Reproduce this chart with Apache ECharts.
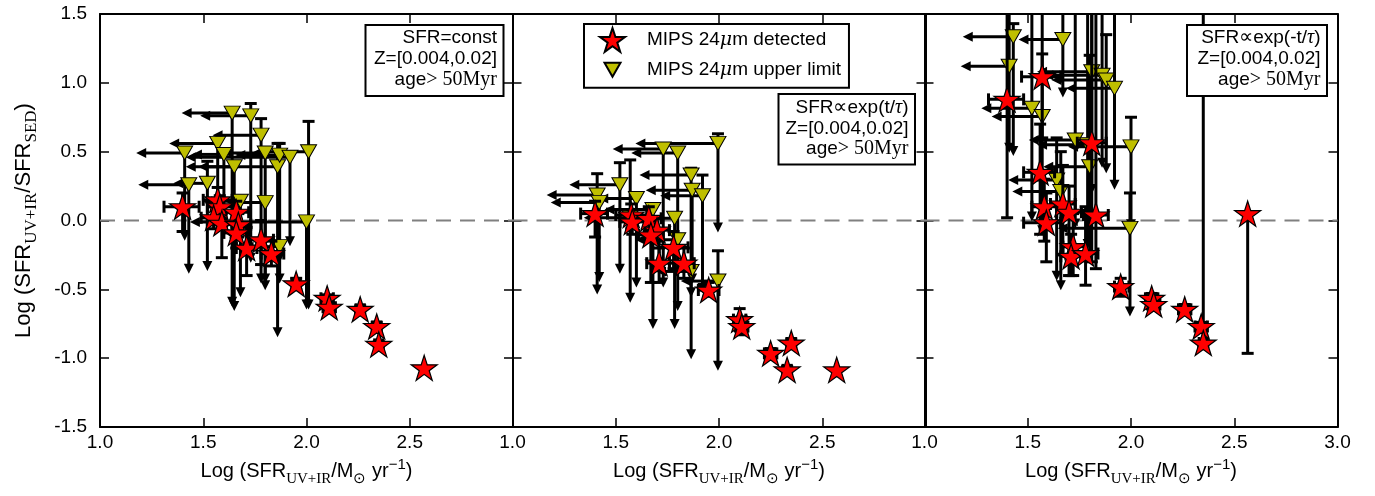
<!DOCTYPE html>
<html><head><meta charset="utf-8">
<script src="https://cdn.jsdelivr.net/npm/echarts/dist/echarts.min.js"></script>
<style>html,body{margin:0;padding:0;background:#fff}#c{width:1375px;height:496px}</style>
</head><body><div id="c"></div>
<script>
// ---------- data ----------
const xTickValues = [1.0, 1.5, 2.0, 2.5, 3.0];
const yTickValues = [-1.5, -1.0, -0.5, 0.0, 0.5, 1.0, 1.5];
const DET = 'MIPS 24μm detected';
const LIM = 'MIPS 24μm upper limit';
const panelNotes = [
  ['{a|SFR=const}', '{a|Z=[0.004,0.02]}', '{a|age}{m|> 50Myr}'],
  ['{a|SFR}{m|∝}{a|exp(t/}{i|τ}{a|)}', '{a|Z=[0.004,0.02]}', '{a|age}{m|> 50Myr}'],
  ['{a|SFR}{m|∝}{a|exp(-t/}{i|τ}{a|)}', '{a|Z=[0.004,0.02]}', '{a|age}{m|> 50Myr}']
];
// detected: [x, y, xlo, xhi, ylo, yhi]
const det1 = [
 [1.40, 0.10, 1.31, 1.48, -0.08, 0.20],
 [1.57, 0.15, 1.50, 1.64, 0.05, 0.24],
 [1.58, 0.10, 1.52, 1.64, 0.00, 0.18],
 [1.66, 0.06, 1.60, 1.72, -0.05, 0.14],
 [1.55, 0.02, 1.49, 1.61, -0.06, 0.10],
 [1.59, -0.02, 1.52, 1.66, -0.27, 0.06],
 [1.67, -0.03, 1.61, 1.73, -0.12, 0.05],
 [1.66, -0.09, 1.60, 1.72, -0.20, 0.00],
 [1.71, -0.20, 1.66, 1.76, -0.40, -0.05],
 [1.78, -0.14, 1.72, 1.84, -0.32, 0.00],
 [1.83, -0.24, 1.78, 1.89, -0.33, -0.15],
 [1.95, -0.46, 1.93, 1.97, -0.50, -0.42],
 [2.10, -0.565, 2.07, 2.13, -0.59, -0.54],
 [2.11, -0.63, 2.08, 2.14, -0.66, -0.60],
 [2.26, -0.645, 2.24, 2.28, -0.67, -0.62],
 [2.34, -0.77, 2.32, 2.36, -0.80, -0.74],
 [2.35, -0.90, 2.33, 2.37, -0.92, -0.88],
 [2.57, -1.07, 2.57, 2.57, -1.07, -1.07]
];
// upper limits: [x, y, xArrowTip, xRightCap, yArrowTip, yTopCap]
const lim1 = [
 [1.41, 0.49, 1.18, null, -0.14, null],
 [1.43, 0.26, 1.19, null, -0.38, null],
 [1.52, 0.27, 1.36, null, -0.36, 0.43],
 [1.57, 0.56, 1.34, null, 0.05, null],
 [1.60, 0.48, 1.45, null, -0.10, null],
 [1.64, 0.78, 1.40, null, -0.62, null],
 [1.65, 0.39, 1.48, null, -0.65, null],
 [1.68, 0.14, 1.50, null, -0.55, null],
 [1.73, 0.76, 1.49, null, -0.30, 0.85],
 [1.78, 0.62, 1.55, null, -0.45, 0.74],
 [1.80, 0.49, 1.60, null, -0.50, null],
 [1.80, 0.13, 1.62, null, -0.45, null],
 [1.86, 0.39, 1.42, null, -0.84, 0.56],
 [1.87, 0.475, 1.66, null, -0.30, 0.56],
 [1.92, 0.46, 1.42, null, -0.18, null],
 [2.01, 0.50, 1.75, null, -0.64, 0.72],
 [2.00, -0.01, 1.44, null, -0.64, null],
 [1.87, -0.19, 1.70, null, -0.45, null]
];
const det2 = [
 [1.40, 0.05, 1.33, 1.46, -0.12, 0.14],
 [1.575, 0.04, 1.50, 1.65, -0.06, 0.12],
 [1.58, -0.01, 1.52, 1.64, -0.10, 0.08],
 [1.66, 0.016, 1.60, 1.72, -0.08, 0.10],
 [1.70, -0.07, 1.64, 1.76, -0.15, 0.02],
 [1.67, -0.105, 1.61, 1.73, -0.45, 0.00],
 [1.78, -0.195, 1.71, 1.85, -0.35, -0.08],
 [1.71, -0.31, 1.65, 1.76, -0.45, -0.20],
 [1.83, -0.31, 1.76, 1.88, -0.42, -0.20],
 [1.95, -0.505, 1.90, 2.00, -0.55, -0.45],
 [2.10, -0.72, 2.07, 2.13, -0.80, -0.64],
 [2.11, -0.77, 2.08, 2.14, -0.83, -0.70],
 [2.25, -0.965, 2.22, 2.28, -1.00, -0.93],
 [2.35, -0.89, 2.33, 2.37, -0.92, -0.86],
 [2.33, -1.085, 2.31, 2.35, -1.11, -1.06],
 [2.57, -1.085, 2.57, 2.57, -1.085, -1.085]
];
const lim2 = [
 [1.41, 0.185, 1.17, null, -0.53, 0.34],
 [1.42, 0.13, 1.19, null, -0.44, null],
 [1.52, 0.26, 1.28, null, -0.38, 0.42],
 [1.57, 0.02, 1.35, null, -0.59, 0.44],
 [1.60, 0.16, 1.42, null, -0.48, null],
 [1.68, 0.08, 1.45, null, -0.78, null],
 [1.73, 0.52, 1.49, null, -0.48, null],
 [1.785, 0.016, 1.55, null, -0.78, null],
 [1.80, 0.49, 1.58, null, -0.65, null],
 [1.80, -0.14, 1.60, null, -0.40, null],
 [1.865, 0.33, 1.62, null, -1.00, 0.38],
 [1.87, 0.22, 1.65, null, -0.45, null],
 [1.92, 0.18, 1.72, null, -0.52, 0.33],
 [1.865, -0.37, 1.70, null, -0.55, null],
 [1.995, 0.56, 1.60, null, -0.08, 0.63],
 [1.995, -0.44, 1.82, null, -1.085, -0.22]
];
const det3 = [
 [1.40, 0.88, 1.31, 1.48, 0.02, 1.60],
 [1.57, 1.045, 1.47, 1.66, 0.60, 1.21],
 [1.81, 0.565, 1.74, 1.88, -0.30, 1.70],
 [1.56, 0.35, 1.48, 1.63, -0.10, 0.70],
 [1.58, 0.10, 1.52, 1.65, -0.15, 0.30],
 [1.67, 0.12, 1.61, 1.73, -0.25, 0.40],
 [1.70, 0.06, 1.64, 1.76, -0.40, 0.25],
 [1.59, -0.016, 1.48, 1.66, -0.30, 0.20],
 [1.83, 0.04, 1.77, 1.89, -0.35, 1.70],
 [1.72, -0.19, 1.67, 1.78, -0.40, 0.05],
 [1.71, -0.26, 1.66, 1.77, -0.40, -0.10],
 [1.78, -0.24, 1.72, 1.84, -0.47, 0.10],
 [1.95, -0.48, 1.92, 1.99, -0.55, -0.42],
 [2.10, -0.565, 2.07, 2.13, -0.60, -0.53],
 [2.11, -0.61, 2.08, 2.14, -0.65, -0.57],
 [2.26, -0.645, 2.23, 2.29, -0.68, -0.61],
 [2.34, -0.77, 2.31, 2.37, -0.80, -0.74],
 [2.35, -0.89, 2.33, 2.37, -0.92, 1.70],
 [2.565, 0.05, 2.565, 2.565, -0.965, 0.05]
];
const lim3 = [
 [1.43, 1.335, 1.19, null, 0.475, 1.43],
 [1.41, 1.12, 1.18, null, 0.50, 1.70],
 [1.67, 1.315, 1.46, null, 0.90, 1.70],
 [1.81, 1.08, 1.55, null, 0.20, 1.70],
 [1.86, 1.055, 1.58, null, 0.39, 1.70],
 [1.88, 1.02, 1.62, null, 0.35, 1.35],
 [1.92, 0.96, 1.69, null, 0.23, 1.70],
 [1.52, 0.815, 1.28, null, 0.00, 1.70],
 [1.57, 0.755, 1.33, null, -0.10, 1.70],
 [1.73, 0.585, 1.51, null, -0.05, 1.70],
 [1.79, 0.55, 1.55, null, -0.20, 1.70],
 [2.00, 0.535, 1.70, null, -0.057, 0.75],
 [1.80, 0.39, 1.58, null, -0.30, 1.20],
 [1.64, 0.295, 1.41, null, -0.43, 0.60],
 [1.66, 0.21, 1.43, null, -0.50, 0.50],
 [1.995, -0.057, 1.65, null, -0.69, 0.20]
];
const detPanels = [det1, det2, det3];
const limPanels = [lim1, lim2, lim3];

// ---------- styling / layout ----------
const F = 'Liberation Sans';
const SERIF = 'Liberation Serif';
const gridLefts = [100, 512.5, 924.5];
const starPath = 'path://M50,0 L61.2,34.5 L97.6,34.5 L68.2,55.9 L79.4,90.5 L50,69.1 L20.6,90.5 L31.8,55.9 L2.4,34.5 L38.8,34.5 Z';
const triPath = 'path://M0,0 L100,0 L50,87 Z';
const triLegendPath = 'path://M0,0 M25,24 M4.5,5 L20.5,5 L12.5,19 Z';

function errRender(arr, kind) {
  return function (params, api) {
    const d = arr[params.dataIndex];
    const c = api.coord([d[0], d[1]]);
    const ch = [];
    const ls = {stroke: '#000', lineWidth: 3};
    const line = (a, b) => ch.push({type: 'line', shape: {x1: a[0], y1: a[1], x2: b[0], y2: b[1]}, style: ls});
    const cap = 6;
    const hcap = p => line([p[0] - cap, p[1]], [p[0] + cap, p[1]]);
    const vcap = p => line([p[0], p[1] - cap], [p[0], p[1] + cap]);
    if (kind === 'det') {
      const l = api.coord([d[2], d[1]]), r = api.coord([d[3], d[1]]);
      const b = api.coord([d[0], d[4]]), t = api.coord([d[0], d[5]]);
      if (r[0] - l[0] > 1) { line(l, r); vcap(l); vcap(r); }
      if (b[1] - t[1] > 1) { line(t, b); hcap(t); hcap(b); }
    } else {
      const tx = api.coord([d[2], d[1]]);
      const rx = d[3] == null ? c : api.coord([d[3], d[1]]);
      line([tx[0] + 5, tx[1]], rx);
      if (d[3] != null) vcap(rx);
      ch.push({type: 'polygon', shape: {points: [[tx[0] - 1, tx[1]], [tx[0] + 9, tx[1] - 5], [tx[0] + 9, tx[1] + 5]]}, style: {fill: '#000'}});
      const ty = api.coord([d[0], d[4]]);
      const top = d[5] == null ? c : api.coord([d[0], d[5]]);
      line(top, [ty[0], ty[1] - 5]);
      if (d[5] != null) hcap(top);
      ch.push({type: 'polygon', shape: {points: [[ty[0], ty[1] + 1], [ty[0] - 5, ty[1] - 9], [ty[0] + 5, ty[1] - 9]]}, style: {fill: '#000'}});
    }
    return {type: 'group', children: ch};
  };
}

const tickStyle = {show: true, inside: true, length: 9, lineStyle: {color: '#000', width: 1.5}};
const lineStyleAx = {show: true, onZero: false, lineStyle: {color: '#000', width: 2}};
const xName = '{a|Log (SFR}{s|UV+IR}{a|/M}{s|⊙}{a| yr}{p|−1}{a|)}';
const yName = '{a|Log (SFR}{s|UV+IR}{a|/SFR}{s|SED}{a|)}';
const xNameRich = {
  a: {fontSize: 20, fontFamily: F, color: '#000', lineHeight: 30, verticalAlign: 'middle'},
  s: {fontSize: 15, fontFamily: SERIF, color: '#000', lineHeight: 16, verticalAlign: 'bottom'},
  p: {fontSize: 15, fontFamily: F, color: '#000', lineHeight: 20, verticalAlign: 'top'}
};
const yNameRich = {
  a: {fontSize: 22, fontFamily: F, color: '#000', lineHeight: 32, verticalAlign: 'middle'},
  s: {fontSize: 17, fontFamily: SERIF, color: '#000', lineHeight: 17, verticalAlign: 'bottom'}
};

const grid = [], xAxis = [], yAxis = [], series = [];
for (let i = 0; i < 3; i++) {
  grid.push({left: gridLefts[i], top: 14, width: 413, height: 413, show: false, outerBoundsMode: 'none', containLabel: false});
  xAxis.push({
    gridIndex: i, type: 'value', min: 1, max: 3, interval: 0.5, position: 'bottom',
    axisLine: lineStyleAx, axisTick: tickStyle, splitLine: {show: false},
    axisLabel: {show: true, color: '#000', fontSize: 19, fontFamily: F, margin: 6, showMinLabel: true, showMaxLabel: true,
      formatter: v => (i < 2 && v >= 3) ? '' : v.toFixed(1)},
    name: xName, nameLocation: 'middle', nameGap: 27,
    nameTextStyle: {color: '#000', fontSize: 20, fontFamily: F, rich: xNameRich}
  });
  xAxis.push({
    gridIndex: i, type: 'value', min: 1, max: 3, interval: 0.5, position: 'top',
    axisLine: lineStyleAx, axisTick: tickStyle, splitLine: {show: false}, axisLabel: {show: false}
  });
  yAxis.push({
    gridIndex: i, type: 'value', min: -1.5, max: 1.5, interval: 0.5, position: 'left',
    axisLine: lineStyleAx, axisTick: tickStyle, splitLine: {show: false},
    axisLabel: {show: i === 0, color: '#000', fontSize: 19, fontFamily: F, margin: 13, showMinLabel: true, showMaxLabel: true,
      formatter: v => v.toFixed(1)},
    name: i === 0 ? yName : '', nameLocation: 'middle', nameGap: 60, nameRotate: 90,
    nameTextStyle: {color: '#000', fontSize: 22, fontFamily: F, rich: yNameRich}
  });
  yAxis.push({
    gridIndex: i, type: 'value', min: -1.5, max: 1.5, interval: 0.5, position: 'right',
    axisLine: lineStyleAx, axisTick: tickStyle, splitLine: {show: false}, axisLabel: {show: false}
  });
  const xi = i * 2, yi = i * 2;
  series.push({
    type: 'line', xAxisIndex: xi, yAxisIndex: yi, data: [[1, 0], [3, 0]], symbol: 'none', silent: true, z: 1,
    lineStyle: {color: '#808080', width: 2, type: [15, 9]}, animation: false
  });
  const lim = limPanels[i], det = detPanels[i];
  series.push({
    type: 'custom', name: 'limErr' + i, xAxisIndex: xi, yAxisIndex: yi, clip: true, z: 2, silent: true,
    renderItem: errRender(lim, 'lim'), encode: {x: 0, y: 1}, data: lim.map(d => [d[0], d[1]]), animation: false
  });
  series.push({
    type: 'scatter', name: LIM, xAxisIndex: xi, yAxisIndex: yi, z: 3, symbol: triPath, symbolSize: [16, 14],
    itemStyle: {color: '#bfbf00', borderColor: '#000', borderWidth: 1, opacity: 1},
    data: lim.map(d => [d[0], d[1]]), animation: false
  });
  series.push({
    type: 'custom', name: 'detErr' + i, xAxisIndex: xi, yAxisIndex: yi, clip: true, z: 4, silent: true,
    renderItem: errRender(det, 'det'), encode: {x: 0, y: 1}, data: det.map(d => [d[0], d[1]]), animation: false
  });
  series.push({
    type: 'scatter', name: DET, xAxisIndex: xi, yAxisIndex: yi, z: 5, symbol: starPath, symbolSize: [26, 25],
    itemStyle: {color: '#ff0000', borderColor: '#000', borderWidth: 1.2, opacity: 1},
    data: det.map(d => [d[0], d[1]]), animation: false
  });
}

// annotation boxes
const noteBoxes = [
  {x: 365.5, y: 25, w: 138, h: 71, tx: 497, ty: [38, 58.5, 79.5]},
  {x: 778.5, y: 94, w: 136.5, h: 70.5, tx: 908.5, ty: [107.5, 128.5, 149]},
  {x: 1187, y: 25, w: 140, h: 71, tx: 1320.5, ty: [38, 58.5, 79.5]}
];
const noteRich = {
  a: {fontSize: 19, fontFamily: F, color: '#000'},
  m: {fontSize: 20, fontFamily: SERIF, color: '#000'},
  i: {fontSize: 20, fontFamily: SERIF, fontStyle: 'italic', color: '#000'}
};
const graphic = [];
noteBoxes.forEach((b, k) => {
  graphic.push({type: 'rect', z: 100, shape: {x: b.x, y: b.y, width: b.w, height: b.h}, style: {fill: '#fff', stroke: '#000', lineWidth: 2}});
  panelNotes[k].forEach((t, j) => {
    graphic.push({type: 'text', z: 101, x: b.tx, y: b.ty[j], style: {text: t, rich: noteRich, align: 'right', verticalAlign: 'middle', fill: '#000', fontSize: 19, fontFamily: F}});
  });
});

const chart = echarts.init(document.getElementById('c'), null, {renderer: 'canvas'});
chart.setOption({
  animation: false,
  backgroundColor: '#fff',
  grid, xAxis, yAxis, series, graphic,
  legend: {
    show: true, orient: 'vertical', left: 584, top: 24, padding: [3, 8, 5, 15], itemGap: 4,
    itemWidth: 25, itemHeight: 24, borderColor: '#000', borderWidth: 2, backgroundColor: '#fff', borderRadius: 0,
    selectedMode: false, z: 50,
    textStyle: {fontSize: 19, fontFamily: F, color: '#000', padding: [0, 0, 0, 17],
      rich: {m: {fontSize: 19, fontFamily: 'DejaVu Serif', fontStyle: 'italic', color: '#000'}}},
    formatter: n => n.replace('μ', '{m|μ}'),
    data: [{name: DET, icon: starPath}, {name: LIM, icon: triLegendPath}]
  }
});
</script></body></html>
